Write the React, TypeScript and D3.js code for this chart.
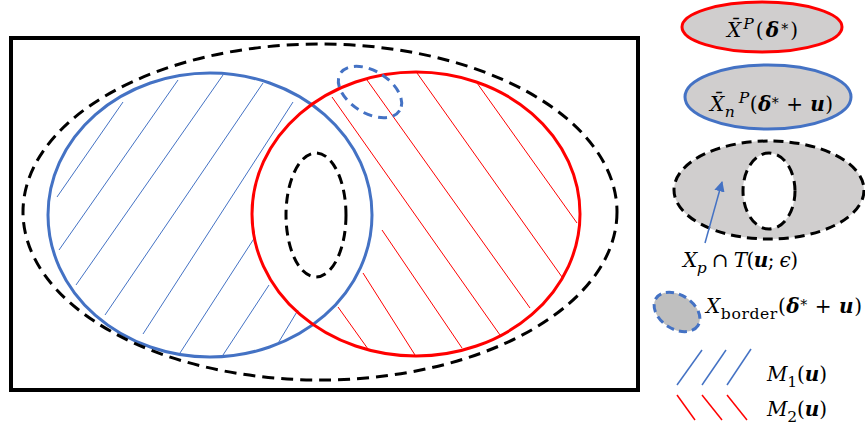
import * as d3 from "d3";

const W = 865;
const H = 429;

// the figure is a diagram, so its own pixel grid is the data space
const x = d3.scaleLinear([0, W], [0, W]);
const y = d3.scaleLinear([0, H], [0, H]);

const BLUE = "#4472C4";
const RED = "#FF0000";
const GRAY = "#D0CECE";
const FONT = "'DejaVu Serif', 'Liberation Serif', serif";

type Ell = { cx: number; cy: number; rx: number; ry: number; rot?: number };
type Seg = [number, number, number, number];
type Run = [string, string, string?];

// main diagram
const frame = { x0: 11, y0: 38, x1: 638, y1: 390 };
const outerSet: Ell = { cx: 320, cy: 212, rx: 297, ry: 168 };
const blueSet: Ell = { cx: 210, cy: 215, rx: 162, ry: 142 };
const redSet: Ell = { cx: 416, cy: 214, rx: 164, ry: 142 };
const innerSet: Ell = { cx: 316, cy: 215, rx: 30, ry: 62 };
const borderSet: Ell = { cx: 370, cy: 92, rx: 35, ry: 21, rot: 32 };

const blueHatch: Seg[] = [
  [123, 102, 57, 197],
  [178, 80, 59, 250],
  [223, 75, 76, 285],
  [263, 83, 105, 315],
  [293, 102, 143, 334],
  [255, 237, 180, 353],
  [269, 285, 223, 355],
  [298, 310, 277, 345],
];

const redHatch: Seg[] = [
  [332, 97, 500, 335],
  [367, 80, 530, 308],
  [417, 73, 562, 277],
  [477, 83, 577, 223],
  [382, 230, 462, 348],
  [363, 273, 415, 355],
  [338, 307, 368, 349],
];

// legend
const legRed: Ell = { cx: 762, cy: 27, rx: 80, ry: 25 };
const legBlue: Ell = { cx: 768, cy: 97, rx: 83, ry: 32 };
const legOuter: Ell = { cx: 769, cy: 190, rx: 95, ry: 49 };
const legInner: Ell = { cx: 769, cy: 191, rx: 26, ry: 38 };
const legBorder: Ell = { cx: 677, cy: 312, rx: 25, ry: 17, rot: 33 };
const legArrow: Seg = [705, 243, 722, 182];
const legM1: Seg[] = [
  [677, 385, 702, 350],
  [702, 385, 726, 350],
  [727, 385, 751, 349],
];
const legM2: Seg[] = [
  [677, 395, 695, 420],
  [702, 395, 722, 420],
  [727, 395, 747, 420],
];

const labelRed: Run[] = [["X\u0304", "i"], ["P", "i", "sup"], ["(", "r"], ["δ", "bi"], ["*", "r", "ast"], [")", "r"]];
const labelBlue: Run[] = [["X\u0304", "i"], ["n", "i", "sub"], ["\u2009P", "i", "sup"], ["(", "r"], ["δ", "bi"], ["*", "r", "ast"], [" + ", "r"], ["u", "bi"], [")", "r"]];
const labelTube: Run[] = [["X", "i"], ["p", "i", "sub"], [" ∩ ", "r"], ["T", "i"], ["(", "r"], ["u", "bi"], ["; ", "r"], ["ϵ", "i"], [")", "r"]];
const labelBorder: Run[] = [["X", "i"], ["border", "r", "sub"], ["(", "r"], ["δ", "bi"], ["*", "r", "ast"], [" + ", "r"], ["u", "bi"], [")", "r"]];
const labelM1: Run[] = [["M", "i"], ["1", "r", "sub"], ["(", "r"], ["u", "bi"], [")", "r"]];
const labelM2: Run[] = [["M", "i"], ["2", "r", "sub"], ["(", "r"], ["u", "bi"], [")", "r"]];

function Ellipse({ e, ...rest }: { e: Ell; [k: string]: any }) {
  const cx = x(e.cx);
  const cy = y(e.cy);
  return (
    <ellipse
      cx={cx}
      cy={cy}
      rx={x(e.rx) - x(0)}
      ry={y(e.ry) - y(0)}
      transform={e.rot ? `rotate(${e.rot},${cx},${cy})` : undefined}
      {...rest}
    />
  );
}

function Lines({ segs, color, width = 1 }: { segs: Seg[]; color: string; width?: number }) {
  return (
    <g stroke={color} strokeWidth={width} fill="none">
      {segs.map((s, i) => (
        <line key={i} x1={x(s[0])} y1={y(s[1])} x2={x(s[2])} y2={y(s[3])} />
      ))}
    </g>
  );
}

function Formula({ px, py, runs, len, size = 20 }: { px: number; py: number; runs: Run[]; len: number; size?: number }) {
  let cur = 0;
  return (
    <text
      x={x(px)}
      y={y(py)}
      fontFamily={FONT}
      fontSize={size}
      fill="#000"
      textLength={len}
      lengthAdjust="spacing"
    >
      {runs.map(([t, st, pos], i) => {
        const target =
          pos === "sub" ? 0.3 * size : pos === "sup" ? -0.42 * size : pos === "ast" ? -0.15 * size : 0;
        const dy = target - cur;
        cur = target;
        const fs = pos === "ast" ? size * 0.7 : pos ? size * 0.78 : size;
        return (
          <tspan
            key={i}
            dy={dy}
            fontStyle={st.includes("i") ? "italic" : "normal"}
            fontWeight={st.includes("b") ? "bold" : "normal"}
            fontSize={fs}
            style={{ whiteSpace: "pre" }}
          >
            {t}
          </tspan>
        );
      })}
    </text>
  );
}

export default function App() {
  return (
    <svg
      width={W}
      height={H}
      style={{ position: "absolute", left: 0, top: 0, background: "#fff" }}
    >
      <defs>
        <marker id="arr" viewBox="0 0 10 10" refX="9" refY="5" markerWidth="7" markerHeight="7" orient="auto">
          <path d="M0,0 L10,5 L0,10 z" fill={BLUE} />
        </marker>
      </defs>

      {/* hatching */}
      <Lines segs={blueHatch} color={BLUE} />
      <Lines segs={redHatch} color={RED} />

      {/* sets */}
      <Ellipse e={blueSet} fill="none" stroke={BLUE} strokeWidth={3} />
      <Ellipse e={redSet} fill="none" stroke={RED} strokeWidth={3} />
      <Ellipse e={innerSet} fill="none" stroke="#000" strokeWidth={3} strokeDasharray="10 6" />
      <Ellipse e={outerSet} fill="none" stroke="#000" strokeWidth={3} strokeDasharray="12 7" />
      <Ellipse e={borderSet} fill="none" stroke={BLUE} strokeWidth={3} strokeDasharray="9 6" />
      <rect
        x={x(frame.x0)}
        y={y(frame.y0)}
        width={x(frame.x1) - x(frame.x0)}
        height={y(frame.y1) - y(frame.y0)}
        fill="none"
        stroke="#000"
        strokeWidth={4}
      />

      {/* legend */}
      <Ellipse e={legRed} fill={GRAY} stroke={RED} strokeWidth={3} />
      <Formula px={727} py={37} runs={labelRed} len={71} />

      <Ellipse e={legBlue} fill={GRAY} stroke={BLUE} strokeWidth={3} />
      <Formula px={710} py={111} runs={labelBlue} len={123} />

      <Ellipse e={legOuter} fill={GRAY} stroke="#000" strokeWidth={3} strokeDasharray="10 6" />
      <Ellipse e={legInner} fill="#fff" stroke="#000" strokeWidth={3} strokeDasharray="10 6" />
      <line
        x1={x(legArrow[0])}
        y1={y(legArrow[1])}
        x2={x(legArrow[2])}
        y2={y(legArrow[3])}
        stroke={BLUE}
        strokeWidth={1.5}
        markerEnd="url(#arr)"
      />
      <Formula px={683} py={267} runs={labelTube} len={115} />

      <Ellipse e={legBorder} fill="#BFBFBF" stroke={BLUE} strokeWidth={3} strokeDasharray="8 5" />
      <Formula px={706} py={313} runs={labelBorder} len={156} />

      <Lines segs={legM1} color={BLUE} width={1.5} />
      <Lines segs={legM2} color={RED} width={1.5} />
      <Formula px={767} py={381} runs={labelM1} len={60} />
      <Formula px={767} py={416} runs={labelM2} len={60} />
    </svg>
  );
}
